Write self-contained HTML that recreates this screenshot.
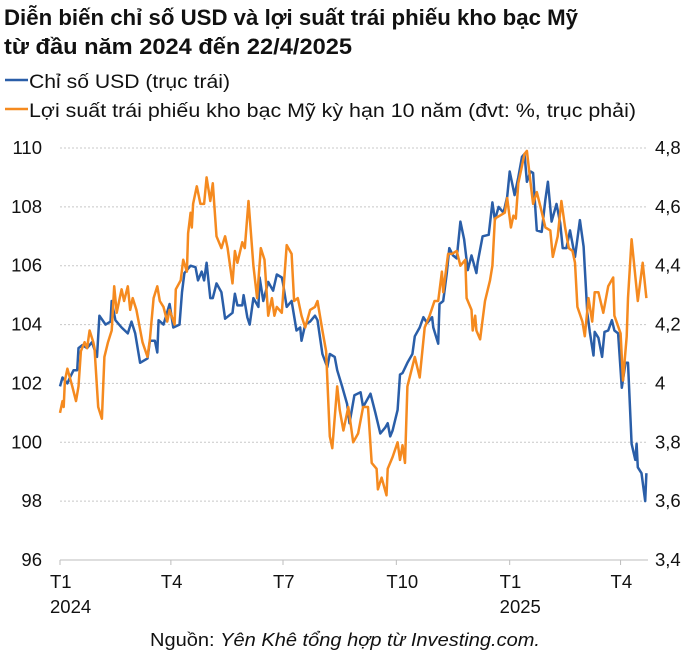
<!DOCTYPE html>
<html><head><meta charset="utf-8">
<style>
html,body{margin:0;padding:0;background:#fff;}
body{width:700px;height:658px;overflow:hidden;font-family:"Liberation Sans","Noto Sans CJK SC",sans-serif;color:#111;}
</style></head>
<body>
<svg id="chart" width="700" height="658" viewBox="0 0 700 658" xmlns="http://www.w3.org/2000/svg" font-family="Liberation Sans, Noto Sans CJK SC, sans-serif">
<text x="4" y="25" font-size="22" font-weight="bold" fill="#111" textLength="574" lengthAdjust="spacingAndGlyphs">Diễn biến chỉ số USD và lợi suất trái phiếu kho bạc Mỹ</text>
<text x="4" y="54" font-size="22" font-weight="bold" fill="#111" textLength="348" lengthAdjust="spacingAndGlyphs">từ đầu năm 2024 đến 22/4/2025</text>
<g>
<line x1="5" y1="80" x2="28" y2="80" stroke="#2a5ea8" stroke-width="2.5"/>
<text x="29" y="88" font-size="19" fill="#111" textLength="201" lengthAdjust="spacingAndGlyphs">Chỉ số USD (trục trái)</text>
<line x1="5" y1="109" x2="28" y2="109" stroke="#f58a1f" stroke-width="2.5"/>
<text x="29" y="117" font-size="19" fill="#111" textLength="607" lengthAdjust="spacingAndGlyphs">Lợi suất trái phiếu kho bạc Mỹ kỳ hạn 10 năm (đvt: %, trục phải)</text>
</g>
<g id="grid"></g>
<g id="axes"></g>
<g id="series"></g>
<text x="150" y="646" font-size="18" fill="#111" textLength="390" lengthAdjust="spacingAndGlyphs">Nguồn: <tspan font-style="italic">Yên Khê tổng hợp từ Investing.com.</tspan></text>
</svg>
<script>
// Left axis (USD index) ticks and right axis (yield) ticks
const leftTicks = [96, 98, 100, 102, 104, 106, 108, 110];
const rightTicks = ["3,4", "3,6", "3,8", "4", "4,2", "4,4", "4,6", "4,8"];
const rightTickValues = [3.4, 3.6, 3.8, 4.0, 4.2, 4.4, 4.6, 4.8];
const xTickDays = [0, 90, 181, 273, 365, 455];
const xTickLabels = ["T1", "T4", "T7", "T10", "T1", "T4"];
const xTickYears = ["2024", "", "", "", "2025", ""];
// USD index: days since 2 Jan 2024, values
const usdDays = [0,2,6,8,11,14,15,18,22,26,30,32,37,41,42,45,50,55,58,61,65,71,73,77,79,80,84,89,92,97,99,101,106,110,112,115,117,119,122,124,127,131,134,140,142,144,148,149,152,154,157,161,162,165,169,173,176,180,181,184,188,192,195,196,199,203,207,209,213,217,219,223,225,229,233,235,239,244,246,252,256,260,264,266,268,270,274,276,278,282,286,288,292,295,298,302,303,307,308,311,314,316,319,322,325,328,331,334,338,339,343,348,351,353,356,360,363,365,369,372,375,377,379,382,384,386,387,391,394,396,399,403,406,408,411,414,418,422,425,428,430,433,434,437,440,442,445,448,450,453,456,459,461,464,467,468,469,472,475,476];
const usdValues = [101.9,102.2,102.0,102.2,102.45,102.45,103.2,103.3,103.2,103.4,102.9,104.3,104.0,104.1,104.8,104.15,103.9,103.7,104.1,103.7,102.7,102.85,103.45,103.45,103.05,104.15,104.0,104.7,103.9,104.0,105.1,105.75,106.0,105.95,105.5,105.8,105.5,106.1,104.9,104.9,105.4,105.1,104.2,104.4,105.05,104.65,104.65,105.0,104.25,104.0,104.9,104.6,105.6,104.8,105.45,105.15,105.7,105.6,105.4,104.6,104.8,103.8,103.9,103.45,104.0,104.1,104.3,104.15,103.0,102.55,103.0,102.9,102.45,101.9,101.3,100.65,101.6,101.7,101.2,101.65,101.0,100.3,100.5,100.65,100.2,100.4,101.1,102.3,102.35,102.7,103.0,103.6,103.9,104.25,104.05,104.25,103.9,103.35,104.7,104.8,105.75,106.6,106.35,106.25,107.5,106.9,105.85,106.35,105.75,106.1,107.0,107.05,108.15,107.55,108.0,107.8,108.35,109.2,108.4,109.0,109.7,109.8,108.85,109.2,109.15,107.8,107.2,107.15,108.25,108.85,107.5,108.1,107.45,106.6,106.6,107.2,106.3,107.55,106.65,104.4,103.75,102.95,103.75,103.55,102.9,103.75,103.8,104.15,103.8,103.7,101.85,102.7,102.7,99.95,99.4,99.95,99.15,98.95,98.0,98.95];
// 10Y Treasury yield (%): days since 2 Jan 2024, values
const yieldDays = [0,2,3,4,6,10,13,15,17,20,22,24,27,28,31,34,36,39,42,44,46,50,52,55,57,59,62,67,71,73,76,79,81,84,87,89,93,94,98,100,103,104,106,107,108,111,114,117,119,122,124,127,131,134,136,140,142,144,148,150,153,157,160,163,166,169,172,174,176,180,184,188,190,193,196,199,203,207,209,213,216,219,221,225,227,230,234,238,242,246,250,253,257,258,261,265,266,270,274,276,278,280,282,288,292,296,300,304,307,310,311,315,318,322,325,329,330,334,335,337,338,341,345,349,351,353,357,361,363,366,368,370,372,375,377,379,382,384,387,390,394,398,400,404,407,410,413,416,418,420,424,426,429,432,434,437,441,445,449,450,455,457,460,461,464,469,473,476];
const yieldValues = [3.90,3.94,3.92,4.01,4.05,3.99,3.94,3.99,4.11,4.14,4.12,4.18,4.14,4.12,3.92,3.88,4.09,4.14,4.18,4.33,4.24,4.32,4.28,4.33,4.25,4.29,4.25,4.14,4.09,4.15,4.29,4.33,4.28,4.26,4.21,4.25,4.20,4.32,4.35,4.42,4.38,4.51,4.58,4.53,4.61,4.67,4.61,4.61,4.70,4.62,4.68,4.50,4.46,4.50,4.46,4.34,4.45,4.41,4.48,4.46,4.62,4.40,4.29,4.46,4.42,4.23,4.29,4.23,4.26,4.24,4.47,4.44,4.28,4.29,4.23,4.19,4.25,4.26,4.28,4.18,4.11,3.82,3.78,3.99,3.91,3.84,3.92,3.80,3.83,3.92,3.92,3.73,3.71,3.64,3.68,3.62,3.71,3.75,3.80,3.74,3.79,3.73,3.99,4.09,4.02,4.19,4.23,4.28,4.28,4.38,4.31,4.44,4.44,4.45,4.40,4.42,4.29,4.25,4.18,4.23,4.18,4.15,4.28,4.35,4.40,4.56,4.57,4.58,4.63,4.53,4.57,4.56,4.68,4.74,4.78,4.79,4.68,4.61,4.65,4.60,4.53,4.52,4.43,4.50,4.62,4.53,4.46,4.45,4.41,4.26,4.21,4.16,4.29,4.21,4.31,4.31,4.24,4.33,4.36,4.23,4.17,4.01,4.16,4.29,4.49,4.28,4.41,4.29];

const NS = "http://www.w3.org/2000/svg";
const plotLeft = 60, dayScale = 1.232, yTop = 148, yBottom = 560;
function xScale(d){ return plotLeft + d * dayScale; }
function yLeft(v){ return yBottom - (v - 96) / 14 * (yBottom - yTop); }
function yRight(v){ return yBottom - (v - 3.4) / 1.4 * (yBottom - yTop); }
function mk(tag, attrs, parent){ const e = document.createElementNS(NS, tag); for (const k in attrs) e.setAttribute(k, attrs[k]); parent.appendChild(e); return e; }

const grid = document.getElementById('grid');
const axes = document.getElementById('axes');
const series = document.getElementById('series');

leftTicks.forEach((v, i) => {
  const y = yLeft(v);
  if (i > 0) {
    const gl = mk('line', {x1: 60, x2: 648, y1: y, y2: y, stroke: '#c8c8c8', 'stroke-width': 1, 'stroke-dasharray': '2,2'}, grid);
    
    
  }
  const t = mk('text', {x: 42, y: y + 6, 'text-anchor': 'end', 'font-size': 18.5, fill: '#111'}, axes);
  t.textContent = v;
  
  
});
rightTickValues.forEach((v, i) => {
  const y = yRight(v);
  const t = mk('text', {x: 655, y: y + 6, 'font-size': 18.5, fill: '#111'}, axes);
  t.textContent = rightTicks[i];
  
  
});
const base = mk('line', {x1: 60, x2: 648, y1: yBottom, y2: yBottom, stroke: '#bdbdbd', 'stroke-width': 1}, axes);


xTickDays.forEach((d, i) => {
  const x = xScale(d);
  const tk = mk('line', {x1: x, x2: x, y1: yBottom, y2: yBottom + 5, stroke: '#bdbdbd', 'stroke-width': 1}, axes);
  
  
  const t = mk('text', {x: x - 10, y: 588, 'font-size': 18.5, fill: '#111'}, axes);
  t.textContent = xTickLabels[i];
  
  
  if (xTickYears[i]) {
    const ty = mk('text', {x: x - 10, y: 613, 'font-size': 18.5, fill: '#111'}, axes);
    ty.textContent = xTickYears[i];
    
    
  }
});

function path(days, vals, yf){ return days.map((d, i) => (i ? 'L' : 'M') + xScale(d).toFixed(1) + ' ' + yf(vals[i]).toFixed(1)).join(' '); }
const usdLine = mk('path', {d: path(usdDays, usdValues, yLeft), fill: 'none', stroke: '#2a5ea8', 'stroke-width': 2.5, 'stroke-linejoin': 'round'}, series);


const yLine = mk('path', {d: path(yieldDays, yieldValues, yRight), fill: 'none', stroke: '#f58a1f', 'stroke-width': 2.5, 'stroke-linejoin': 'round'}, series);


</script>
</body></html>
